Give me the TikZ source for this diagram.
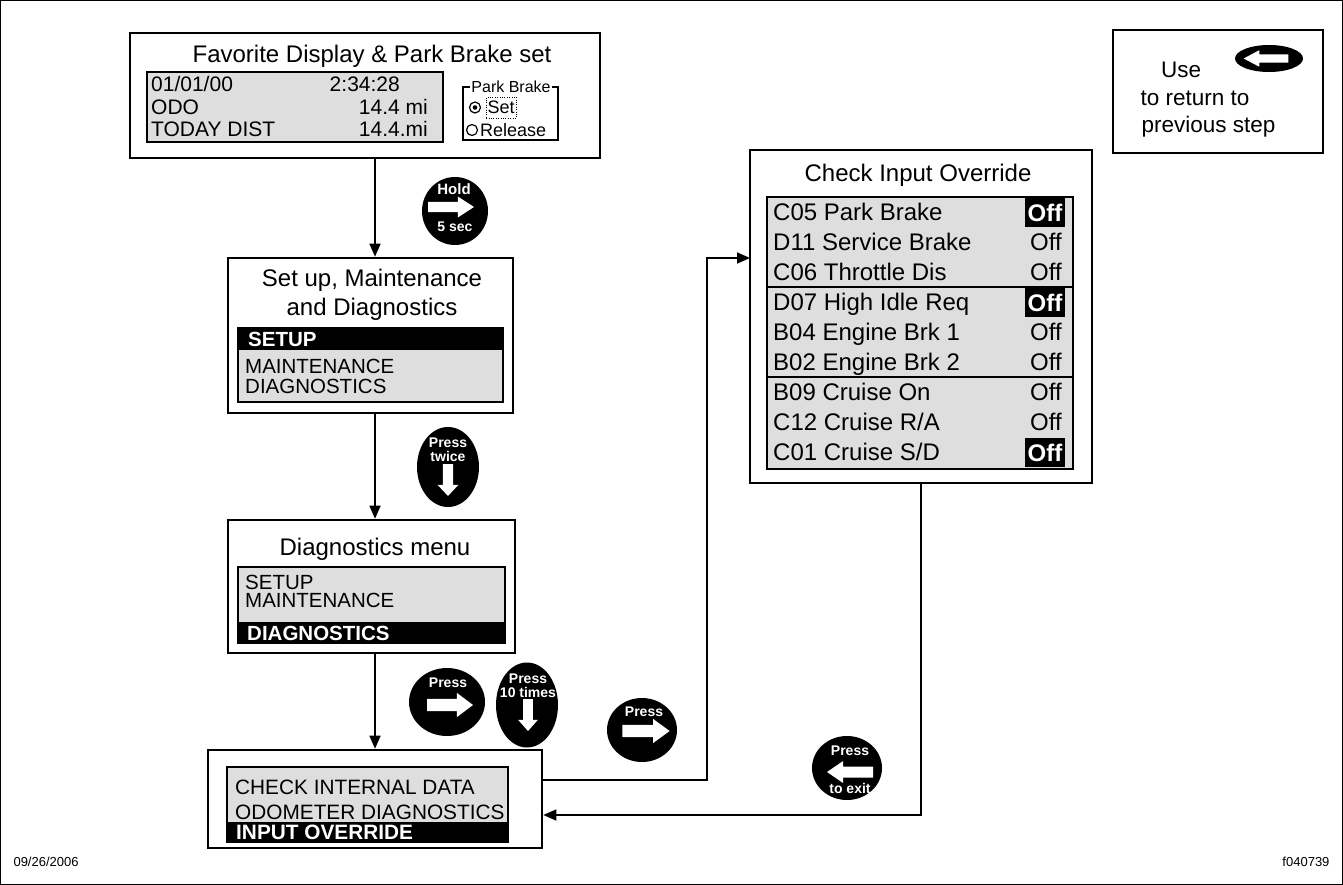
\documentclass[tikz,border=0pt]{standalone}
\usepackage{fontspec}
\setmainfont{Liberation Sans}
\usetikzlibrary{arrows.meta,shapes.geometric}

\newcommand{\titlesize}{\fontsize{24}{29}\selectfont}
\newcommand{\menusize}{\fontsize{20.5}{23}\selectfont}
\newcommand{\lcdsize}{\fontsize{21}{23}\selectfont}
\newcommand{\inputsize}{\fontsize{20.8}{23}\selectfont}
\newcommand{\ovrsize}{\fontsize{24}{27}\selectfont}
\newcommand{\smallsize}{\fontsize{16}{18}\selectfont}
\newcommand{\optsize}{\fontsize{18}{20}\selectfont}
\newcommand{\keysize}{\fontsize{14}{15}\selectfont\bfseries}

\tikzset{
  panel/.style={draw, line width=2.6pt, inner sep=0pt},
  screen/.style={draw, line width=1.8pt, fill=black!13, inner sep=0pt},
  hilite/.style={fill=black, inner sep=0pt},
  boxtitle/.style={font=\titlesize, anchor=base, inner sep=0pt},
  menurow/.style={font=\menusize, anchor=base west, inner sep=0pt},
  menuval/.style={font=\menusize, anchor=base east, inner sep=0pt},
  hirow/.style={menurow, text=white, font=\menusize\bfseries},
  keypad/.style={ellipse, fill=black, inner sep=0pt},
  keytext/.style={text=white, font=\keysize, inner sep=0pt},
  flow/.style={line width=1.6pt, -{Triangle[length=13pt,width=11pt]}},
  keyarrow/.pic={\fill[white] (-20,-5.5) -- (6,-5.5) -- (6,-11) -- (20,0) -- (6,11) -- (6,5.5) -- (-20,5.5) -- cycle;}
}

\begin{document}
\begin{tikzpicture}[x=1pt,y=-1pt]
  \useasboundingbox (0,0) rectangle (1343,885);
  \draw[line width=1pt] (0.5,0.5) rectangle (1342.5,884.5);

  % favorite display
  \node[panel, minimum width=470pt, minimum height=125pt] (fav) at (365,95.5) {};
  \node[boxtitle] (favtitle) at (372,62.5) {Favorite Display \& Park Brake set};
  \node[screen, minimum width=296pt, minimum height=70pt] (favscreen) at (295,107) {};
  \node[menurow, font=\lcdsize] (date) at (151,92) {01/01/00};
  \node[menuval, font=\lcdsize] (clock) at (400,92) {2:34:28};
  \node[menurow, font=\lcdsize] (odo) at (151,115) {ODO};
  \node[menuval, font=\lcdsize] (odoval) at (428,115) {14.4 mi};
  \node[menurow, font=\lcdsize] (today) at (151,137) {TODAY DIST};
  \node[menuval, font=\lcdsize] (todayval) at (428,137) {14.4.mi};
  \node[draw, line width=1.6pt, minimum width=95pt, minimum height=53pt] (brakebox) at (510.5,113.5) {};
  \node[fill=white, font=\smallsize, inner sep=1.5pt] (brakelabel) at (511,87) {Park Brake};
  \node[circle, draw, line width=1.2pt, minimum size=11pt, inner sep=0pt] (setradio) at (475,107.5) {};
  \fill (setradio) circle (2.3pt);
  \node[draw, dotted, font=\optsize, anchor=west, inner sep=1.5pt, minimum height=21pt] (settext) at (486,107.5) {Set};
  \node[circle, draw, line width=1.2pt, minimum size=11pt, inner sep=0pt] (relradio) at (472,130) {};
  \node[font=\optsize, anchor=west, inner sep=0pt] (reltext) at (480,130) {Release};

  % set up menu
  \node[panel, minimum width=285pt, minimum height=155pt] (setup) at (370.5,335.5) {};
  \node[boxtitle] (setuptitle) at (372,286.5) {Set up, Maintenance};
  \node[boxtitle] (setuptitle2) at (372,315.5) {and Diagnostics};
  \node[screen, minimum width=265pt, minimum height=74pt] (setupscreen) at (370.5,365) {};
  \node[hilite, minimum width=265pt, minimum height=22pt] (setupbar) at (370.5,339) {};
  \node[hirow] (setupsel) at (248,346.5) {SETUP};
  \node[menurow] (setupmaint) at (245,373.5) {MAINTENANCE};
  \node[menurow] (setupdiag) at (245,393.5) {DIAGNOSTICS};

  % diagnostics menu
  \node[panel, minimum width=287pt, minimum height=133pt] (diagmenu) at (371.5,586.5) {};
  \node[boxtitle] (diagtitle) at (375,555.5) {Diagnostics menu};
  \node[screen, minimum width=267pt, minimum height=76pt] (diagscreen) at (371.5,605) {};
  \node[menurow] (diagsetup) at (245,589.5) {SETUP};
  \node[menurow] (diagmaint) at (245,607.5) {MAINTENANCE};
  \node[hilite, minimum width=267pt, minimum height=21pt] (diagbar) at (371.5,632.5) {};
  \node[hirow] (diagsel) at (247,640) {DIAGNOSTICS};

  % input menu
  \node[panel, minimum width=334pt, minimum height=98pt] (inputmenu) at (375,799) {};
  \node[screen, minimum width=281pt, minimum height=75pt] (inputscreen) at (367.5,804.5) {};
  \node[menurow, font=\inputsize] (checkrow) at (235,794.5) {CHECK INTERNAL DATA};
  \node[menurow, font=\inputsize] (odorow) at (235,819.5) {ODOMETER DIAGNOSTICS};
  \node[hilite, minimum width=281pt, minimum height=20pt] (inputbar) at (367.5,832) {};
  \node[hirow, font=\inputsize\bfseries] (inputsel) at (236,839.5) {INPUT OVERRIDE};

  % check input override
  \node[panel, minimum width=342pt, minimum height=333pt] (override) at (921,316.5) {};
  \node[boxtitle] (ovrtitle) at (918,181.5) {Check Input Override};
  \node[screen, minimum width=306pt, minimum height=272pt] (ovrscreen) at (920,333) {};
  \foreach \name [count=\i from 0] in {C05 Park Brake, D11 Service Brake, C06 Throttle Dis,
      D07 High Idle Req, B04 Engine Brk 1, B02 Engine Brk 2, B09 Cruise On, C12 Cruise R/A, C01 Cruise S/D}
    \node[menurow, font=\ovrsize] (ovr\i) at (773,{220.6+30*\i}) {\name};
  \foreach \i in {1,2,4,5,6,7}
    \node[menuval, font=\ovrsize] (off\i) at (1062,{220.6+30*\i}) {Off};
  \foreach \i in {0,3,8}
    \node[hilite, text=white, font=\ovrsize\bfseries, minimum width=40pt, minimum height=29pt] (off\i) at (1045,{212.5+30*\i}) {Off};
  \draw[line width=1.6pt] (ovrscreen.west |- 0,287) -- (ovrscreen.east |- 0,287);
  \draw[line width=1.6pt] (ovrscreen.west |- 0,377) -- (ovrscreen.east |- 0,377);

  % return hint
  \node[draw, line width=1.8pt, minimum width=210pt, minimum height=123pt] (usebox) at (1218,91.5) {};
  \node[keypad, minimum width=68pt, minimum height=27pt] (backkey) at (1269,58.5) {};
  \pic[rotate=180, xscale=1.12, yscale=0.75] at (1266,58.5) {keyarrow};
  \node[boxtitle, font=\fontsize{22.5}{27}\selectfont] (usetext) at (1181,78) {Use};
  \node[boxtitle, font=\fontsize{22.5}{27}\selectfont] (usetext2) at (1195,106) {to return to};
  \node[boxtitle, font=\fontsize{22.5}{27}\selectfont] (usetext3) at (1208.5,133) {previous step};

  % keys
  \node[keypad, minimum width=66pt, minimum height=68pt] (holdkey) at (455,211) {};
  \node[keytext, font=\fontsize{15}{16}\selectfont\bfseries] (holdtop) at (454,189) {Hold};
  \pic[xscale=1.15, yscale=0.95] at (451,207) {keyarrow};
  \node[keytext] (holdbot) at (455,227) {5 sec};

  \node[keypad, minimum width=62pt, minimum height=80pt] (twicekey) at (448,467) {};
  \node[keytext] (twicetop) at (448,443) {Press};
  \node[keytext] (twicemid) at (448,456) {twice};
  \pic[rotate=-90, xscale=0.8, yscale=0.95] at (448,480) {keyarrow};

  \node[keypad, minimum width=76pt, minimum height=68pt] (presskey) at (447,702) {};
  \node[keytext] (presstop) at (448,683) {Press};
  \pic[xscale=1.15, yscale=1.1] at (450,705) {keyarrow};

  \node[keypad, minimum width=62pt, minimum height=85pt] (tenkey) at (527,705) {};
  \node[keytext] (tentop) at (528,679) {Press};
  \node[keytext] (tenmid) at (528,692) {10 times};
  \pic[rotate=-90, xscale=0.8, yscale=0.9] at (528,715) {keyarrow};

  \node[keypad, minimum width=70pt, minimum height=64pt] (nextkey) at (642,730) {};
  \node[keytext] (nexttop) at (644,712) {Press};
  \pic[xscale=1.18, yscale=1.1] at (646,731) {keyarrow};

  \node[keypad, minimum width=70pt, minimum height=64pt] (exitkey) at (847,768) {};
  \node[keytext] (exittop) at (850,751) {Press};
  \pic[rotate=180, xscale=1.15] at (850,772) {keyarrow};
  \node[keytext] (exitbot) at (850,788) {to exit};

  % connectors
  \coordinate (spine) at (375,0);
  \coordinate (jog) at (707,0);
  \coordinate (entry) at (750,258);
  \coordinate (exitrow) at (0,780);
  \coordinate (back) at (0,815);
  \draw[flow] (fav.south -| spine) -- (setup.north -| spine);
  \draw[flow] (setup.south -| spine) -- (diagmenu.north -| spine);
  \draw[flow] (diagmenu.south -| spine) -- (inputmenu.north -| spine);
  \draw[flow] (inputmenu.east |- exitrow) -| (jog |- entry) -- (entry);
  \draw[flow] (override.south) |- (inputmenu.east |- back);

  % footer
  \node[anchor=west, font=\fontsize{13}{15}\selectfont] (datestamp) at (10,862) {09/26/2006};
  \node[anchor=east, font=\fontsize{13}{15}\selectfont] (figid) at (1333,862) {f040739};
\end{tikzpicture}
\end{document}
